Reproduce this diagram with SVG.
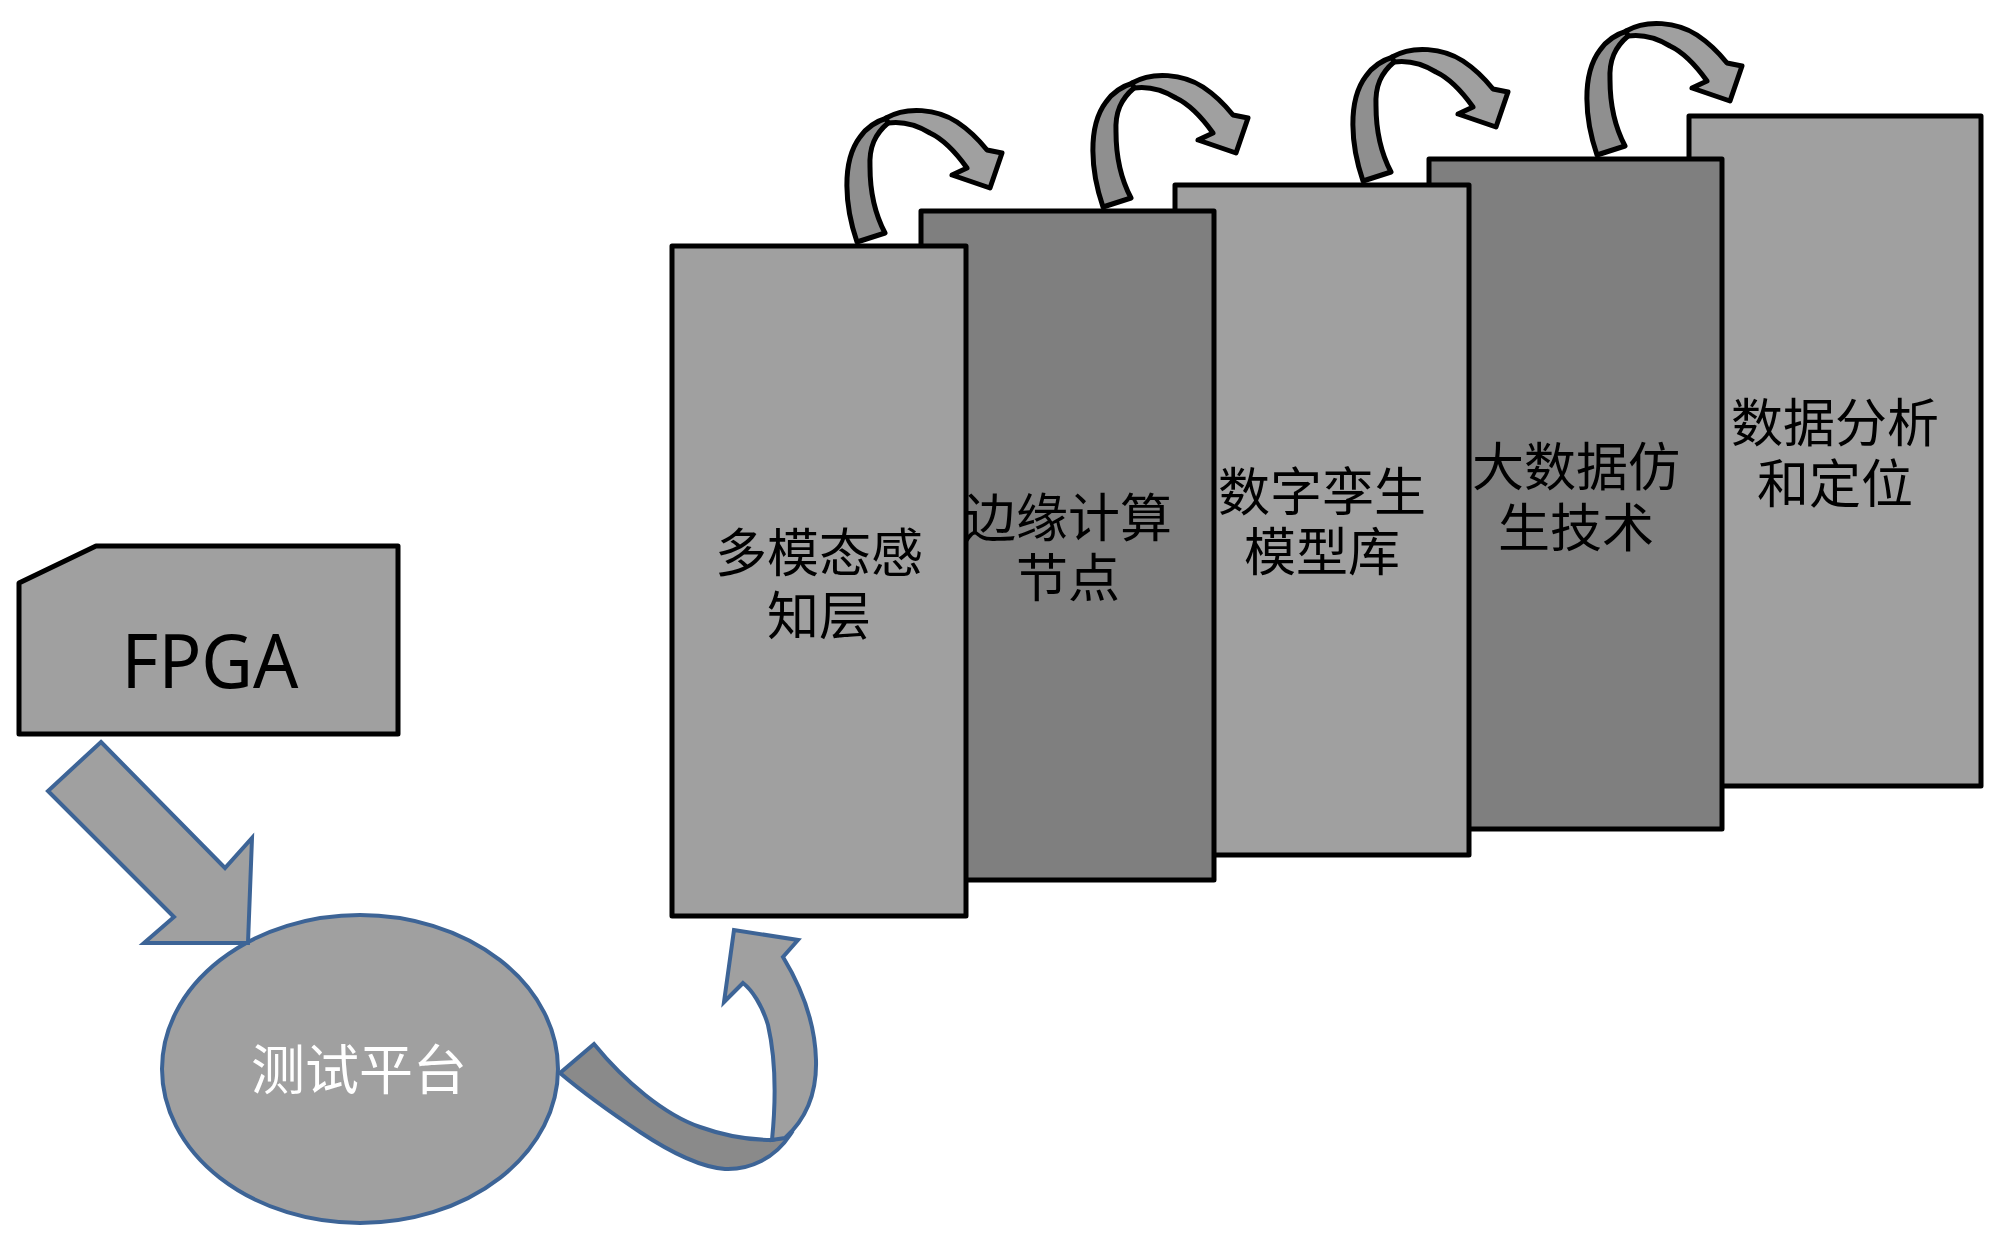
<svg xmlns="http://www.w3.org/2000/svg" xmlns:xlink="http://www.w3.org/1999/xlink" width="2000" height="1244" viewBox="0 0 2000 1244">
<style>
.box{stroke:#000;stroke-width:5;stroke-linejoin:round}
.light{fill:#A0A0A0}
.dark{fill:#7F7F7F}
.lbl{font-family:"Noto Sans CJK SC","Noto Sans",sans-serif;font-size:52px;fill:#000;text-anchor:middle}
.blue{stroke:#3D6496;stroke-width:4;stroke-linejoin:miter}
.curl{stroke:#000;stroke-width:5;stroke-linejoin:round}
</style>
<defs>
<g id="curl">
<path class="curl" fill="#8F8F8F" d="M0,0 C-12,-35 -16,-80 3,-105 C10,-115 20,-121 30,-124 L31,-119 C18,-108 12,-95 13,-75 C13,-50 18,-28 28,-9 Z"/>
<path class="curl" fill="#A0A0A0" d="M29,-124 C50,-136 80,-133 100,-120 C112,-112 122,-102 130,-92 L145,-89 L133,-54 L95,-67 L110,-74 C100,-88 88,-102 73,-109 C60,-117 45,-121 31,-119 Z"/>
</g>
</defs>
<rect width="2000" height="1244" fill="#fff"/>

<g id="node-fpga">
<polygon class="box light" points="19,583 96,546 398,546 398,734 19,734"/>
<text x="210" y="688" font-family="'Noto Sans','Liberation Sans',sans-serif" font-size="74" text-anchor="middle" textLength="177" lengthAdjust="spacingAndGlyphs" fill="#000">FPGA</text>
</g>

<g id="node-platform">
<ellipse class="blue light" cx="360" cy="1069" rx="198" ry="154"/>
<text x="359" y="1090" class="lbl" style="fill:#fff;font-size:54px">测试平台</text>
</g>

<g id="node-5">
<rect class="box light" x="1689" y="116" width="292" height="670"/>
<text class="lbl" x="1835" y="442">数据分析</text>
<text class="lbl" x="1835" y="503">和定位</text>
</g>
<g id="node-4">
<rect class="box dark" x="1429" y="159" width="293" height="670"/>
<text class="lbl" x="1576" y="486">大数据仿</text>
<text class="lbl" x="1576" y="547">生技术</text>
</g>
<g id="node-3">
<rect class="box light" x="1175" y="185" width="294" height="670"/>
<text class="lbl" x="1322" y="511">数字孪生</text>
<text class="lbl" x="1322" y="571">模型库</text>
</g>
<g id="node-2">
<rect class="box dark" x="921" y="211" width="293" height="669"/>
<text class="lbl" x="1068" y="537">边缘计算</text>
<text class="lbl" x="1068" y="597">节点</text>
</g>
<g id="node-1">
<rect class="box light" x="672" y="246" width="294" height="670"/>
<text class="lbl" x="819" y="572">多模态感</text>
<text class="lbl" x="819" y="635">知层</text>
</g>

<g id="connectors">
<polygon class="blue light" points="101,742 225,868 252,838 248,943 144,943 174,917 48,791"/>
<path class="blue" fill="#8A8A8A" d="M594,1044 C625,1082 665,1115 700,1127 C725,1136 750,1140 772,1140 L790,1135 C775,1158 750,1170 725,1169 C700,1167 670,1152 640,1132 C610,1112 580,1090 560,1073 Z"/>
<path class="blue light" d="M772,1140 C776,1100 776,1060 768,1025 C762,1005 752,990 743,983 L724,1002 L734,930 L798,940 L783,957 C800,985 815,1020 816,1060 C817,1095 805,1120 785,1138 Z"/>
<use xlink:href="#curl" transform="translate(857,242)"/>
<use xlink:href="#curl" transform="translate(1103,207)"/>
<use xlink:href="#curl" transform="translate(1363,181)"/>
<use xlink:href="#curl" transform="translate(1597,155)"/>
</g>
</svg>
